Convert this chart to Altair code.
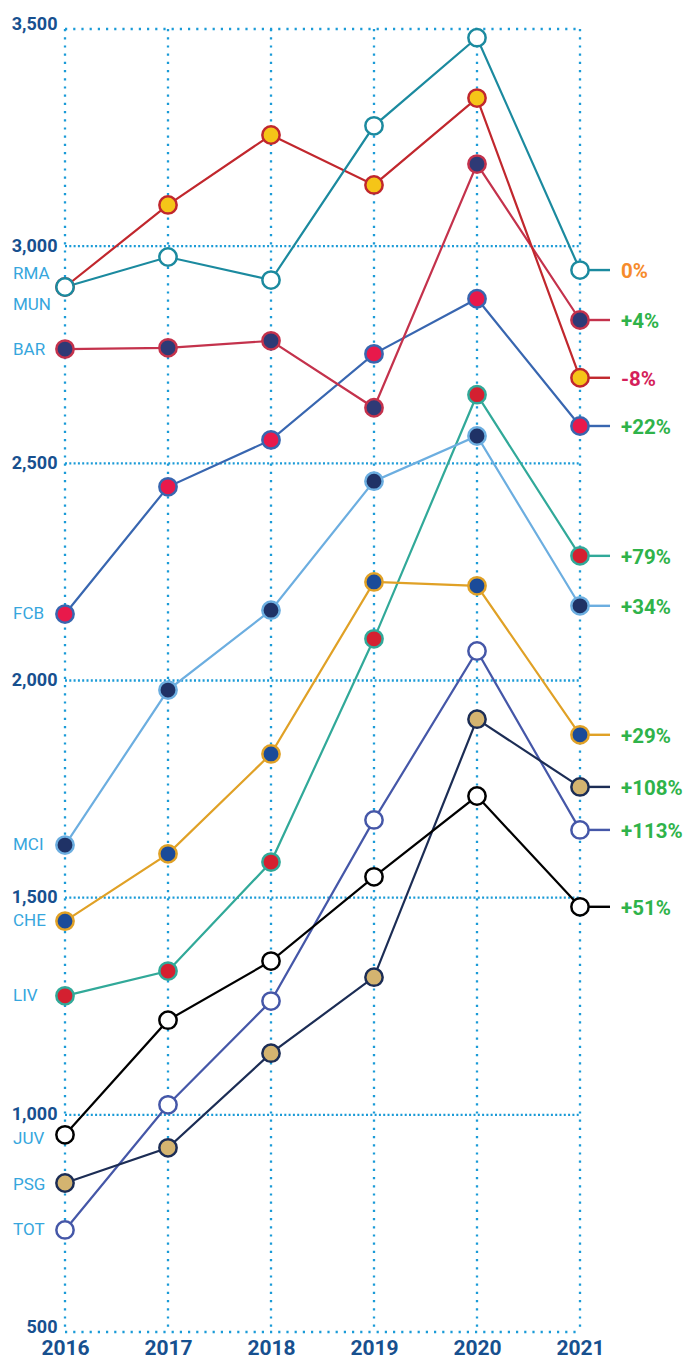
import altair as alt
import pandas as pd

years = [2016, 2017, 2018, 2019, 2020, 2021]
teams = ["TOT", "PSG", "JUV", "LIV", "CHE", "MCI", "FCB", "BAR", "MUN", "RMA"]

rma = [2906, 2975, 2922, 3277, 3480, 2945]
mun = [2906, 3095, 3256, 3141, 3341, 2697]
bar = [2763, 2766, 2782, 2628, 3189, 2830]
fcb = [2153, 2446, 2554, 2752, 2879, 2586]
mci = [1621, 1978, 2162, 2459, 2563, 2172]
che = [1446, 1601, 1831, 2227, 2218, 1875]
liv = [1274, 1331, 1582, 2096, 2658, 2287]
juv = [954, 1218, 1354, 1548, 1734, 1479]
psg = [843, 924, 1142, 1317, 1911, 1755]
tot = [735, 1023, 1262, 1679, 2068, 1656]

series = {"RMA": rma, "MUN": mun, "BAR": bar, "FCB": fcb, "MCI": mci,
          "CHE": che, "LIV": liv, "JUV": juv, "PSG": psg, "TOT": tot}

# value each left-hand team label points at
label_anchor = {"RMA": 2936, "MUN": 2865, "BAR": 2761, "FCB": 2153, "MCI": 1621,
                "CHE": 1446, "LIV": 1274, "JUV": 944, "PSG": 838, "TOT": 735}
change_text = {"RMA": "0%", "MUN": "-8%", "BAR": "+4%", "FCB": "+22%", "MCI": "+34%",
               "CHE": "+29%", "LIV": "+79%", "JUV": "+51%", "PSG": "+108%", "TOT": "+113%"}
y_ticks = [500, 1000, 1500, 2000, 2500, 3000, 3500]

# styles
line_colors = {"RMA": "#1b8a9f", "MUN": "#c1272d", "BAR": "#c4324c", "FCB": "#3866b0",
               "MCI": "#6caee0", "CHE": "#e0a126", "LIV": "#31a999", "JUV": "#000000",
               "PSG": "#1c2d55", "TOT": "#4557a8"}
fill_colors = {"RMA": "#ffffff", "MUN": "#f5c518", "BAR": "#2e3a76", "FCB": "#e8194b",
               "MCI": "#1f3266", "CHE": "#1b4b99", "LIV": "#d42030", "JUV": "#ffffff",
               "PSG": "#d4b470", "TOT": "#ffffff"}
green, orange, crimson = "#2fb34a", "#f68b2c", "#d51f5b"
change_colors = {"RMA": orange, "MUN": crimson}
grid_color = "#1b9bd7"
axis_color = "#17508f"
team_label_color = "#36a6dd"

rows = []
for i, t in enumerate(teams):
    for y, v in zip(years, series[t]):
        rows.append({"team": t, "year": y, "value": v, "draw": i})
df = pd.DataFrame(rows)
last = df[df.year == years[-1]].copy()
last["change"] = last.team.map(change_text)
last["ccolor"] = last.team.map(lambda t: change_colors.get(t, green))
labels = pd.DataFrame({"team": teams, "value": [label_anchor[t] for t in teams]})

dom = teams
lc = [line_colors[t] for t in teams]
fc = [fill_colors[t] for t in teams]

xs = alt.Scale(domain=[years[0], years[-1]], nice=False, zero=False)
ys = alt.Scale(domain=[y_ticks[0], y_ticks[-1]], nice=False, zero=False)
X = alt.X("year:Q", scale=xs, title=None,
          axis=alt.Axis(values=years, format="d", labelFontSize=21, labelFontWeight="bold",
                        labelColor=axis_color, labelFont="Roboto", domain=False, ticks=False,
                        grid=False, labelPadding=5, labelFlush=False, labelOverlap=False))
Y = alt.Y("value:Q", scale=ys, title=None,
          axis=alt.Axis(values=y_ticks, format=",.0f", labelFontSize=18, labelFontWeight="bold",
                        labelColor=axis_color, labelFont="Roboto", domain=False, ticks=False,
                        grid=False, labelPadding=8, labelFlush=False, labelOverlap=False,
                        labelBaseline={"condition": {"test": "datum.value == 500 || datum.value == 3500",
                                                     "value": "alphabetic"},
                                       "value": "middle"}))

hdense = pd.DataFrame({"value": y_ticks[1:-1]})
hsparse = pd.DataFrame({"value": [y_ticks[0], y_ticks[-1]]})
vgrid = pd.DataFrame({"year": years})

g1 = alt.Chart(hdense).mark_rule(color=grid_color, strokeWidth=2.3, strokeDash=[2, 2.3]).encode(
    y=Y, x=alt.value(0), x2=alt.value(515))
g2 = alt.Chart(hsparse).mark_rule(color=grid_color, strokeWidth=2.3, strokeDash=[2.2, 6]).encode(
    y=Y, x=alt.value(0), x2=alt.value(515))
g3 = alt.Chart(vgrid).mark_rule(color=grid_color, strokeWidth=2.3, strokeDash=[2.2, 6]).encode(
    x=X, y=alt.value(0), y2=alt.value(1303))

cscale = alt.Scale(domain=dom, range=lc)
lines = alt.Chart(df).mark_line(strokeWidth=2.2).encode(
    x=X, y=Y, color=alt.Color("team:N", scale=cscale, legend=None), detail="team:N")
stubs = alt.Chart(last).mark_rule(strokeWidth=2.4).encode(
    x=X, x2=alt.value(545), y=Y, color=alt.Color("team:N", scale=cscale, legend=None))
points = alt.Chart(df).mark_point(shape="circle", filled=True, size=300, strokeWidth=2.5,
                                  opacity=1, fillOpacity=1, strokeOpacity=1).encode(
    x=X, y=Y,
    fill=alt.Fill("team:N", scale=alt.Scale(domain=dom, range=fc), legend=None),
    stroke=alt.Stroke("team:N", scale=alt.Scale(domain=dom, range=lc), legend=None),
    order=alt.Order("draw:Q"))
pct = alt.Chart(last).mark_text(align="left", baseline="middle", fontSize=20.5, fontWeight="bold",
                                font="Roboto", dy=2).encode(
    x=alt.value(556), y=Y, text="change:N", color=alt.Color("ccolor:N", scale=None))
tlab = alt.Chart(labels).mark_text(align="left", baseline="middle", fontSize=17, font="Roboto",
                                   color=team_label_color).encode(
    x=alt.value(-52), y=Y, text="team:N")

chart = alt.layer(g1, g2, g3, lines, stubs, points, pct, tlab).properties(
    width=515, height=1303, autosize="none",
    padding={"left": 57, "top": 21, "right": 107, "bottom": 27}
).configure_view(stroke=None)

chart.save("out.html", embed_options={"renderer": "svg", "actions": False})
